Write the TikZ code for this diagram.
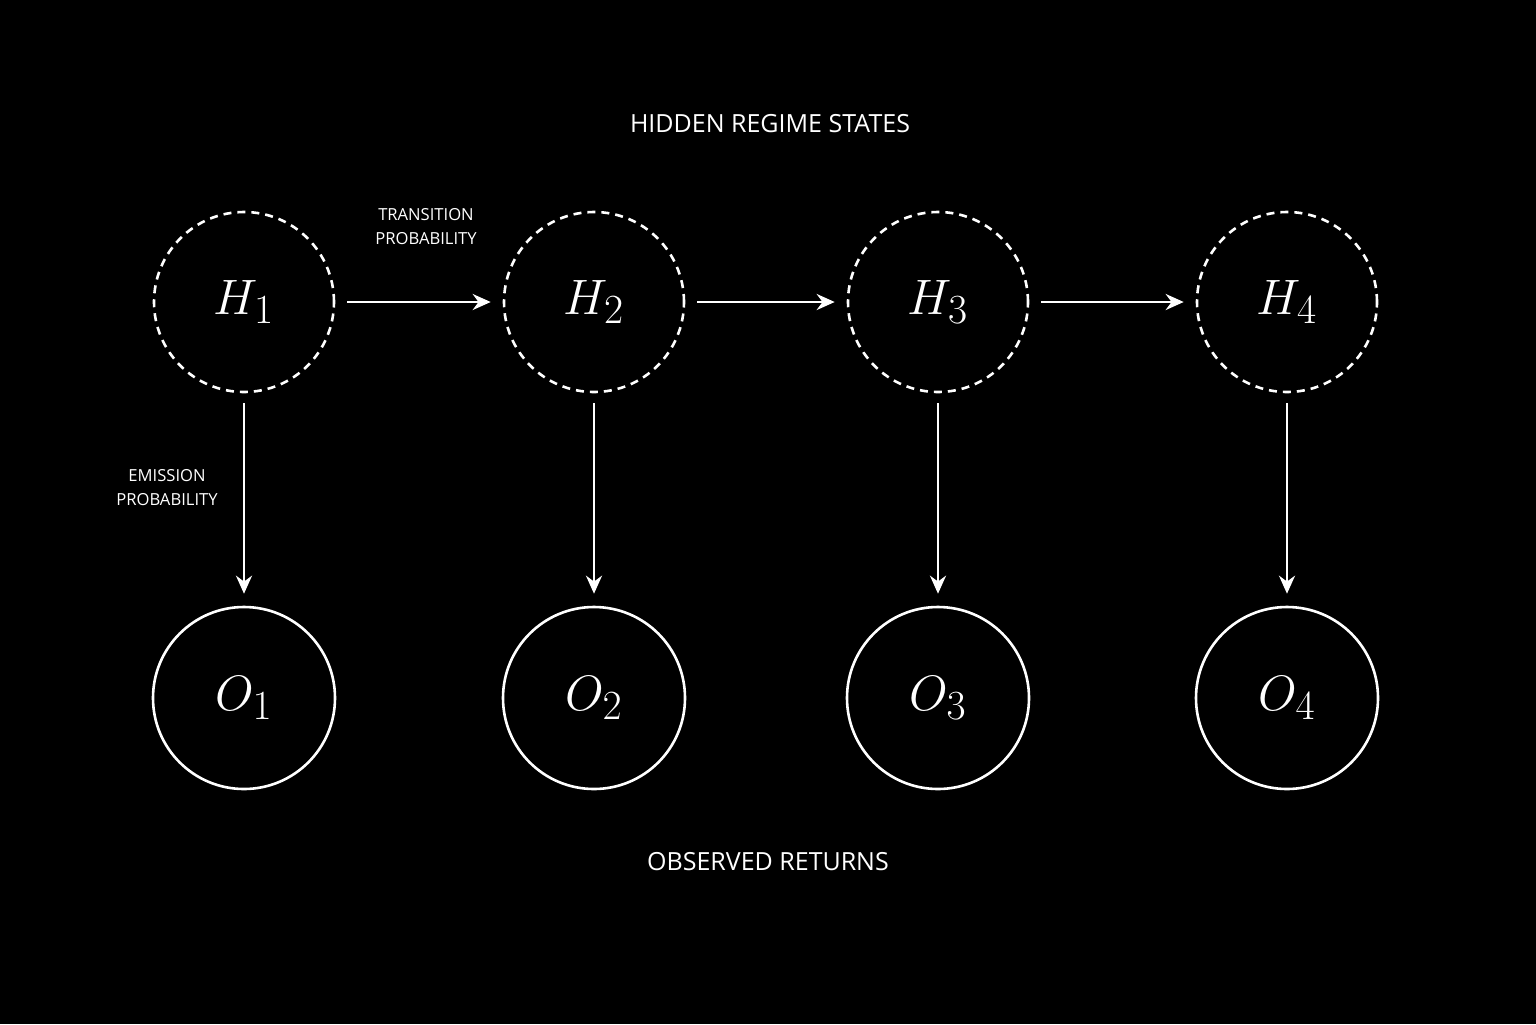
\documentclass[tikz,border=0pt]{standalone}
\usepackage{fontspec}
\setsansfont{Open Sans}
\usetikzlibrary{arrows.meta}
\begin{document}
\begin{tikzpicture}[x=0.5pt,y=-0.5pt,
  hid/.style={circle,draw=white,line width=1.3pt,dash pattern=on 4pt off 3pt,minimum size=90pt,inner sep=0pt,text=white,font=\fontsize{29}{32}\selectfont},
  obs/.style={circle,draw=white,line width=1.3pt,minimum size=91pt,inner sep=0pt,text=white,font=\fontsize{29}{32}\selectfont},
  arr/.style={draw=white,line width=1.3pt,-{Stealth[length=9pt,width=8pt]}},
  big/.style={text=white,font=\sffamily\fontsize{12.5}{14}\selectfont},
  small/.style={text=white,font=\sffamily\fontsize{8.3}{12}\selectfont,align=center}]
\fill[black] (0,0) rectangle (1536,1024);
\useasboundingbox (0,0) rectangle (1536,1024);
\foreach \i/\x in {1/244,2/594,3/938,4/1287}{
  \node[hid] (H\i) at (\x,302) {$H_{\i}$};
  \node[obs] (O\i) at (\x,698) {$O_{\i}$};
  \draw[arr] ([yshift=-5pt]H\i.south) -- ([yshift=6pt]O\i.north);
}
\foreach \a/\b in {1/2,2/3,3/4}{
  \draw[arr] ([xshift=6pt]H\a.east) -- ([xshift=-6pt]H\b.west);
}
\node[big] (t1) at (770,124) {HIDDEN REGIME STATES};
\node[big] (t2) at (768,862) {OBSERVED RETURNS};
\node[small] (t3) at (426,227) {TRANSITION\\PROBABILITY};
\node[small] (t4) at (167,488) {EMISSION\\PROBABILITY};
\end{tikzpicture}
\end{document}
